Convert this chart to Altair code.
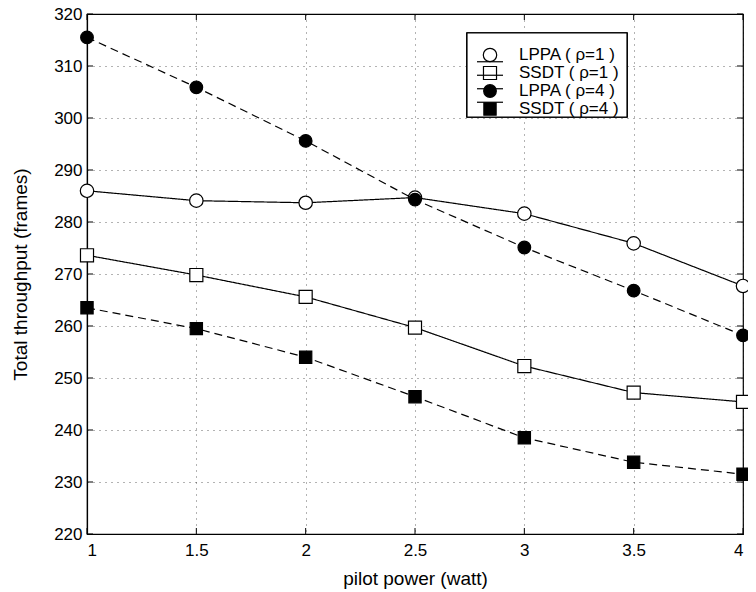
import altair as alt
import pandas as pd

pilot_power = [1, 1.5, 2, 2.5, 3, 3.5, 4]
lppa_rho1 = [286.0, 284.1, 283.7, 284.7, 281.6, 275.9, 267.7]
ssdt_rho1 = [273.6, 269.8, 265.6, 259.7, 252.3, 247.2, 245.4]
lppa_rho4 = [315.5, 305.9, 295.6, 284.3, 275.1, 266.8, 258.2]
ssdt_rho4 = [263.5, 259.5, 254.0, 246.4, 238.5, 233.8, 231.5]

labels = ["LPPA ( ρ=1 )", "SSDT ( ρ=1 )", "LPPA ( ρ=4 )", "SSDT ( ρ=4 )"]
series_values = [lppa_rho1, ssdt_rho1, lppa_rho4, ssdt_rho4]

x_ticks = [1, 1.5, 2, 2.5, 3, 3.5, 4]
y_ticks = [220, 230, 240, 250, 260, 270, 280, 290, 300, 310, 320]

rows = []
for lab, vals in zip(labels, series_values):
    for xv, yv in zip(pilot_power, vals):
        rows.append({"series": lab, "power": xv, "throughput": yv})
df = pd.DataFrame(rows)

W, H = 656, 520
FONT = "Liberation Sans"

xscale = alt.Scale(domain=[1, 4], nice=False, zero=False)
yscale = alt.Scale(domain=[220, 320], nice=False, zero=False)
shape_scale = alt.Scale(domain=labels, range=["circle", "square", "circle", "square"])
fill_scale = alt.Scale(domain=labels, range=["white", "white", "black", "black"])
size_scale = alt.Scale(domain=labels, range=[180, 150, 210, 170])
dash_scale = alt.Scale(domain=labels, range=[[1, 0], [1, 0], [8, 5], [8, 5]])

x_axis = alt.Axis(values=x_ticks, format="~g", title="pilot power (watt)",
                  grid=True, ticks=False, labelPadding=8,
                  titleBaseline="alphabetic", titleY=50)

base = alt.Chart(df)

lines = base.mark_line(color="black", strokeWidth=1.2).encode(
    x=alt.X("power:Q", scale=xscale, axis=x_axis),
    y=alt.Y("throughput:Q", scale=yscale,
            axis=alt.Axis(values=y_ticks, title="Total throughput (frames)",
                          grid=True, ticks=False, labelPadding=5,
                          titleX=-67, titleY=H / 2, titleAngle=-90,
                          titleAlign="center", titleBaseline="middle")),
    strokeDash=alt.StrokeDash("series:N", scale=dash_scale, legend=None),
    detail="series:N",
)

points = base.mark_point(stroke="black", strokeWidth=1.2, opacity=1, fillOpacity=1).encode(
    x=alt.X("power:Q", scale=xscale, axis=x_axis),
    y=alt.Y("throughput:Q", scale=yscale, axis=None),
    shape=alt.Shape("series:N", scale=shape_scale, legend=None),
    fill=alt.Fill("series:N", scale=fill_scale, legend=None),
    size=alt.Size("series:N", scale=size_scale, legend=None),
)

ydf = pd.DataFrame({"v": y_ticks})
xdf = pd.DataFrame({"v": x_ticks})
tick_y_left = alt.Chart(ydf).mark_rule(color="black", strokeWidth=1).encode(
    y=alt.Y("v:Q", scale=yscale, axis=None), x=alt.value(0), x2=alt.value(6))
tick_y_right = alt.Chart(ydf).mark_rule(color="black", strokeWidth=1).encode(
    y=alt.Y("v:Q", scale=yscale, axis=None), x=alt.value(W - 6), x2=alt.value(W))
tick_x_bottom = alt.Chart(xdf).mark_rule(color="black", strokeWidth=1).encode(
    x=alt.X("v:Q", scale=xscale, axis=x_axis), y=alt.value(H - 6), y2=alt.value(H))
tick_x_top = alt.Chart(xdf).mark_rule(color="black", strokeWidth=1).encode(
    x=alt.X("v:Q", scale=xscale, axis=x_axis), y=alt.value(0), y2=alt.value(6))

# legend
ldf = pd.DataFrame({"series": labels})
leg_y = alt.Y("series:N", scale=alt.Scale(domain=labels, range=[41, 95], padding=0), axis=None)
leg_box = alt.Chart(ldf).mark_rect(fill="white", stroke="black", strokeWidth=1.2).encode(
    x=alt.value(380), x2=alt.value(540), y=alt.value(19), y2=alt.value(103))
leg_points = alt.Chart(ldf).mark_point(stroke="black", strokeWidth=1.2, opacity=1, fillOpacity=1).encode(
    y=leg_y, x=alt.value(403),
    shape=alt.Shape("series:N", scale=shape_scale, legend=None),
    fill=alt.Fill("series:N", scale=fill_scale, legend=None),
    size=alt.Size("series:N", scale=size_scale, legend=None),
)
leg_lines = alt.Chart(ldf).mark_rule(color="black", strokeWidth=1.2).encode(
    y=leg_y, x=alt.value(390), x2=alt.value(416))
leg_text = alt.Chart(ldf).mark_text(align="left", baseline="middle", fontSize=17,
                                    font=FONT, color="black").encode(
    y=leg_y, x=alt.value(432), text="series:N")

chart = alt.layer(
    lines, points, tick_y_left, tick_y_right, tick_x_bottom, tick_x_top,
    leg_box, leg_points, leg_lines, leg_text
).resolve_scale(y="independent").properties(
    width=W, height=H,
    padding={"left": 79, "top": 6, "right": 5, "bottom": 55},
    autosize=alt.AutoSizeParams(type="none"),
    background="white",
).configure_view(
    stroke="black", strokeWidth=1.2
).configure_axis(
    domainColor="black", domainWidth=1.2,
    gridColor="black", gridDash=[1, 5], gridOpacity=0.6, gridWidth=1,
    labelFont=FONT, labelFontSize=17, labelColor="black",
    titleFont=FONT, titleFontSize=19, titleColor="black", titleFontWeight="normal",
)

chart.save("out.html", embed_options={"renderer": "svg", "actions": False})
